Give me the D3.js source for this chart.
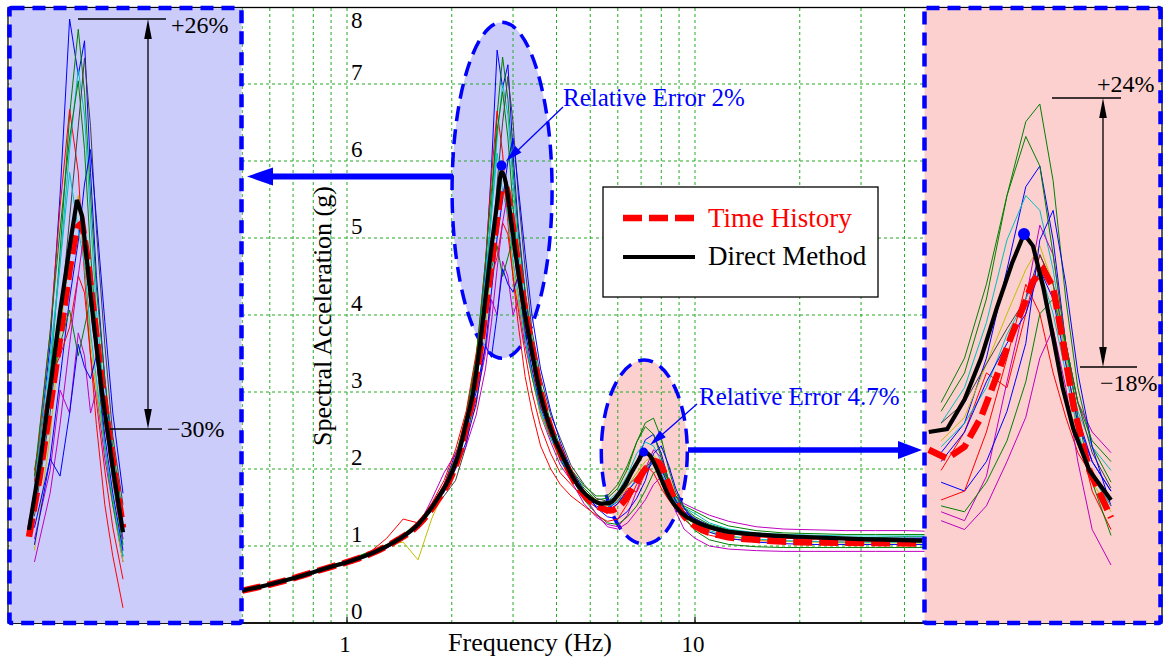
<!DOCTYPE html>
<html>
<head>
<meta charset="utf-8">
<script src="https://cdn.jsdelivr.net/npm/d3@7"></script>
<style>
  body { margin: 0; background: #fff; }
  svg text { font-family: "Liberation Serif", "Times New Roman", serif; }
</style>
</head>
<body>
<svg id="chart"></svg>
<script>
// mean spectra (Hz -> g)
const freqMean = [0.5,0.6,0.7,0.8,0.9,1.0, 1.2,1.4,1.6,1.8,2.0, 2.1,2.2,2.3,2.4,2.5, 2.6,2.7,2.78,2.86,2.95,
  3.05,3.2,3.4,3.6,3.9, 4.2,4.5,5.0,5.4,5.7, 6.0,6.3,6.6,6.9,7.15, 7.4,7.7,8.0,8.3,8.65, 9.2,10,12,15,20, 30,45];
const directMethod = [0.42,0.50,0.58,0.66,0.73,0.79, 0.92,1.08,1.28,1.58,1.95, 2.22,2.60,2.98,3.55,4.22,
  4.88,5.45,5.86,5.72,5.28, 4.80,4.18,3.52,2.96,2.45, 2.13,1.86,1.62,1.55,1.56, 1.66,1.80,1.97,2.12,2.22,
  2.18,2.04,1.87,1.70,1.56, 1.42,1.32,1.20,1.15,1.12, 1.09,1.07];
const timeHistory = [0.42,0.50,0.58,0.66,0.73,0.79, 0.92,1.08,1.27,1.56,1.92, 2.18,2.55,2.92,3.45,4.05,
  4.65,5.25,5.62,5.66,5.35, 4.90,4.25,3.58,3.00,2.46, 2.12,1.84,1.58,1.49,1.46, 1.50,1.60,1.74,1.88,1.98,
  2.06,2.10,2.04,1.86,1.64, 1.42,1.26,1.13,1.08,1.05, 1.04,1.03];

// individual time-history records
const freqRec = [0.5,0.6,0.7,0.8,0.9,1.0, 1.15,1.3,1.45,1.6,1.75,1.9,2.05,
  2.2,2.35,2.5,2.6,2.7,2.8,2.9,3.0,3.1,3.25,3.4,3.6, 3.85,4.1,4.4,4.8,5.2,5.6,
  6.0,6.4,6.8,7.2,7.6,8.0,8.4,8.8,9.3,10, 11,12.5,15,18,22,27,33,40,48];
const rec01 = [0.43,0.51,0.59,0.67,0.74,0.80, 0.90,1.01,1.10,1.30,1.52,1.80,2.20,
  2.55,3.30,4.60,5.90,7.44,6.95,7.25,6.10,5.20,4.30,3.60,3.00, 2.55,2.20,1.95,1.70,1.55,1.48,
  1.58,1.80,2.10,2.38,2.45,2.20,1.85,1.60,1.45,1.35, 1.27,1.20,1.15,1.12,1.11,1.11,1.10,1.10,1.10];
const rec02 = [0.42,0.50,0.57,0.66,0.72,0.78, 0.88,0.98,1.13,1.27,1.47,1.72,2.05,
  2.50,3.15,4.30,5.40,6.60,7.35,6.80,5.90,5.10,4.30,3.70,3.10, 2.60,2.30,1.98,1.75,1.60,1.62,
  1.75,2.00,2.35,2.60,2.66,2.40,2.00,1.70,1.50,1.38, 1.28,1.21,1.16,1.13,1.12,1.11,1.11,1.12,1.12];
const rec03 = [0.42,0.50,0.59,0.66,0.74,0.80, 0.90,1.10,1.35,1.30,1.52,1.80,2.15,
  2.70,3.40,4.70,5.80,6.65,6.10,5.20,4.50,4.10,3.50,3.00,2.55, 2.20,1.95,1.80,1.62,1.50,1.42,
  1.55,1.75,1.70,1.95,2.15,2.05,1.80,1.55,1.35,1.22, 1.14,1.09,1.07,1.06,1.06,1.05,1.06,1.06,1.06];
const rec04 = [0.43,0.51,0.58,0.67,0.73,0.79, 0.90,1.00,1.14,1.30,1.55,1.77,2.12,
  2.60,3.20,4.40,5.30,6.30,7.00,6.60,5.70,4.90,4.10,3.45,2.90, 2.45,2.15,1.90,1.68,1.55,1.58,
  1.70,1.92,2.20,2.35,2.30,2.10,1.82,1.62,1.50,1.42, 1.30,1.22,1.17,1.15,1.14,1.13,1.13,1.13,1.13];
const rec05 = [0.41,0.50,0.58,0.65,0.72,0.78, 0.87,0.97,1.10,1.25,1.60,1.95,2.20,
  2.45,2.90,3.50,4.20,4.00,4.70,4.50,4.00,4.20,3.60,3.20,2.70, 2.35,2.05,1.85,1.55,1.38,1.28,
  1.25,1.40,1.72,2.00,2.25,2.15,1.85,1.65,1.55,1.48, 1.40,1.32,1.25,1.22,1.21,1.20,1.20,1.20,1.19];
const rec06 = [0.42,0.49,0.58,0.66,0.73,0.78, 0.90,1.02,1.05,0.82,1.35,1.72,2.00,
  2.50,2.80,3.80,4.70,5.40,5.90,5.30,4.60,4.20,3.70,3.20,2.70, 2.40,2.10,1.88,1.70,1.60,1.52,
  1.60,1.78,1.95,2.10,2.18,2.05,1.80,1.55,1.38,1.28, 1.18,1.12,1.08,1.06,1.05,1.04,1.04,1.04,1.04];
const rec07 = [0.42,0.50,0.58,0.66,0.73,0.80, 0.89,0.99,1.12,1.26,1.45,1.65,1.85,
  2.30,3.10,4.00,4.80,5.70,6.50,7.10,6.50,5.60,4.60,3.80,3.20, 2.70,2.40,2.05,1.80,1.62,1.58,
  1.65,1.78,1.90,2.00,2.15,2.05,1.85,1.65,1.48,1.36, 1.25,1.18,1.13,1.10,1.09,1.08,1.08,1.08,1.08];
const rec08 = [0.42,0.50,0.58,0.66,0.73,0.79, 0.88,0.98,1.11,1.27,1.48,1.70,2.00,
  2.35,2.85,3.60,4.30,5.00,5.50,6.00,6.30,5.70,4.80,4.00,3.30, 2.75,2.35,2.00,1.72,1.50,1.38,
  1.35,1.45,1.62,1.85,2.20,2.30,2.05,1.75,1.50,1.30, 1.18,1.10,1.05,1.03,1.02,1.02,1.02,1.02,1.02];
const rec09 = [0.43,0.51,0.58,0.67,0.75,0.81, 0.92,1.00,1.14,1.30,1.52,1.78,2.12,
  2.60,3.30,4.20,4.60,4.90,4.50,4.75,5.00,4.50,3.70,3.20,2.75, 2.40,2.15,1.90,1.60,1.42,1.30,
  1.28,1.38,1.52,1.72,1.95,2.00,1.85,1.60,1.38,1.20, 1.08,1.02,0.99,0.98,0.98,0.98,0.98,0.98,0.98];
const rec10 = [0.42,0.50,0.58,0.66,0.73,0.79, 0.89,0.99,1.13,1.30,1.55,1.85,2.25,
  2.75,3.50,4.30,4.50,4.75,5.20,5.05,4.50,3.90,3.20,2.75,2.30, 2.00,1.80,1.65,1.52,1.40,1.32,
  1.35,1.55,1.80,2.05,1.95,1.75,1.60,1.48,1.40,1.30, 1.22,1.16,1.12,1.10,1.09,1.09,1.09,1.09,1.09];
const rec11 = [0.42,0.50,0.58,0.66,0.73,0.79, 0.90,0.99,1.13,1.28,1.50,1.76,2.14,
  2.65,3.35,4.50,5.30,6.10,5.60,5.30,4.70,4.30,3.70,3.25,2.75, 2.40,2.15,1.92,1.70,1.55,1.50,
  1.58,1.70,1.88,2.00,2.10,1.95,1.75,1.55,1.40,1.30, 1.20,1.13,1.09,1.07,1.06,1.05,1.05,1.05,1.05];
const rec12 = [0.41,0.49,0.57,0.65,0.72,0.78, 0.88,0.98,1.10,1.26,1.46,1.70,2.00,
  2.30,2.70,3.30,3.90,4.60,5.20,5.60,5.10,4.60,4.00,3.45,2.90, 2.55,2.25,1.95,1.65,1.42,1.25,
  1.22,1.30,1.45,1.60,1.80,1.90,1.70,1.45,1.22,1.10, 1.00,0.96,0.94,0.93,0.93,0.93,0.93,0.93,0.93];
const rec13 = [0.43,0.51,0.59,0.67,0.74,0.80, 0.91,1.01,1.15,1.31,1.53,1.78,2.15,
  2.70,3.45,4.70,5.60,6.40,6.90,6.30,5.40,4.70,3.95,3.40,2.85, 2.50,2.25,2.00,1.78,1.65,1.65,
  1.80,2.05,2.35,2.55,2.45,2.15,1.85,1.65,1.52,1.45, 1.35,1.26,1.20,1.17,1.16,1.15,1.15,1.15,1.15];
const rec14 = [0.42,0.50,0.58,0.66,0.73,0.79, 0.89,0.99,1.12,1.29,1.49,1.74,2.08,
  2.50,3.00,3.60,3.45,4.00,4.60,4.40,4.30,4.50,3.80,3.30,2.80, 2.45,2.12,1.88,1.66,1.52,1.45,
  1.55,1.72,1.85,1.95,2.10,2.00,1.78,1.58,1.45,1.35, 1.25,1.17,1.13,1.11,1.10,1.10,1.10,1.10,1.10];
const records = [rec01, rec02, rec03, rec04, rec05, rec06, rec07, rec08, rec09, rec10, rec11, rec12, rec13, rec14];
const recordColors = ["#0000ff", "#008000", "#ff0000", "#00bfbf", "#bf00bf", "#bfbf00", "#404040",
  "#0000ff", "#008000", "#ff0000", "#00bfbf", "#bf00bf", "#008000", "#0000ff"];

const gridFreqs = [0.5, 0.6, 0.7, 0.8, 0.9, 1, 2, 3, 4, 5, 6, 7, 8, 9, 10, 20, 30, 40, 50];
const xTicks = [1, 10];
const yTicks = [0, 1, 2, 3, 4, 5, 6, 7, 8];
const legendLabels = ["Time History", "Direct Method"];

const width = 1168, height = 660;
const blue = "#0000ff", lavender = "#ccccfa", pink = "#fdd0d0", gridGreen = "#22aa22";

const svg = d3.select("#chart").attr("width", width).attr("height", height);
svg.append("rect").attr("width", width).attr("height", height).attr("fill", "#fff");

const x = d3.scaleLog().domain([1, 10]).range([347, 695]);
const y = d3.scaleLinear().domain([0, 8]).range([623, 7]);

const defs = svg.append("defs");
function clip(id, x0, y0, w, h) {
  defs.append("clipPath").attr("id", id).append("rect")
    .attr("x", x0).attr("y", y0).attr("width", w).attr("height", h);
}
clip("clipMain", 8, 8, 1154, 615);
clip("clipLeft", 11, 11, 229, 610);
clip("clipRight", 926, 11, 232, 610);

function pairs(fs, vs, lo, hi) {
  return fs.map((f, i) => [f, vs[i]]).filter(d => d[0] >= lo && d[0] <= hi);
}

function arrowHead(g, tipX, tipY, fromX, fromY, len, half, color) {
  const a = Math.atan2(tipY - fromY, tipX - fromX);
  const bx = tipX - len * Math.cos(a), by = tipY - len * Math.sin(a);
  const px = -Math.sin(a) * half, py = Math.cos(a) * half;
  g.append("path")
    .attr("d", `M${tipX},${tipY}L${bx + px},${by + py}L${bx - px},${by - py}Z`)
    .attr("fill", color);
}

// ellipses around the two peaks
const ellipses = [
  { cx: x(2.79), cy: y(5.62), rx: 50, ry: 168, fill: lavender },
  { cx: x(7.15), cy: y(2.22), rx: 43, ry: 92, fill: pink }
];
svg.append("g").selectAll("ellipse").data(ellipses).enter().append("ellipse")
  .attr("cx", d => d.cx).attr("cy", d => d.cy).attr("rx", d => d.rx).attr("ry", d => d.ry)
  .attr("fill", d => d.fill);

// grid
const grid = svg.append("g").attr("stroke", gridGreen).attr("stroke-width", 1).attr("stroke-dasharray", "3,3");
grid.selectAll(".vg").data(gridFreqs).enter().append("line")
  .attr("x1", d => x(d)).attr("x2", d => x(d)).attr("y1", 8).attr("y2", 623);
grid.selectAll(".hg").data(yTicks.slice(1, -1)).enter().append("line")
  .attr("x1", 8).attr("x2", 1162).attr("y1", d => y(d)).attr("y2", d => y(d));

svg.append("g").selectAll("ellipse").data(ellipses).enter().append("ellipse")
  .attr("cx", d => d.cx).attr("cy", d => d.cy).attr("rx", d => d.rx).attr("ry", d => d.ry)
  .attr("fill", "none").attr("stroke", blue).attr("stroke-width", 3.5).attr("stroke-dasharray", "15,8");

// frame and axis
svg.append("rect").attr("x", 8).attr("y", 7.5).attr("width", 1154).attr("height", 615.5)
  .attr("fill", "none").attr("stroke", "#000").attr("stroke-width", 1.3);
svg.append("line").attr("x1", 8).attr("x2", 1162).attr("y1", 623).attr("y2", 623)
  .attr("stroke", "#000").attr("stroke-width", 1.6);
svg.append("g").selectAll("line").data(xTicks).enter().append("line")
  .attr("x1", d => x(d)).attr("x2", d => x(d)).attr("y1", 623).attr("y2", 617)
  .attr("stroke", "#000").attr("stroke-width", 1.2);

svg.append("g").selectAll("text").data(xTicks).enter().append("text")
  .attr("x", d => x(d) - 2).attr("y", 652).attr("text-anchor", "middle")
  .attr("font-size", 23).text(d => d);
svg.append("g").selectAll("text").data(yTicks).enter().append("text")
  .attr("x", 351).attr("y", d => Math.max(y(d) - 4, 28))
  .attr("font-size", 23).text(d => d);

svg.append("text").attr("x", 530).attr("y", 651).attr("text-anchor", "middle")
  .attr("font-size", 26).text("Frequency (Hz)");
svg.append("text").attr("transform", "translate(331,316) rotate(-90)").attr("text-anchor", "middle")
  .attr("font-size", 26).text("Spectral Acceleration (g)");

// spectra, drawn once for the main axes and once per inset
function drawSpectra(g, sx, sy, lo, hi, recLo, recHi, smooth) {
  const line = d3.line().x(d => sx(d[0])).y(d => sy(d[1]));
  g.selectAll(".rec").data(records).enter().append("path")
    .attr("d", d => line(pairs(freqRec, d, recLo, recHi)))
    .attr("fill", "none").attr("stroke", (d, i) => recordColors[i]).attr("stroke-width", 1);
  const meanLine = d3.line().x(d => sx(d[0])).y(d => sy(d[1]))
    .curve(smooth ? d3.curveMonotoneX : d3.curveLinear);
  g.append("path").attr("d", meanLine(pairs(freqMean, timeHistory, lo, hi)))
    .attr("fill", "none").attr("stroke", "#ff0000").attr("stroke-width", 6.5)
    .attr("stroke-dasharray", "19,7");
  g.append("path").attr("d", meanLine(pairs(freqMean, directMethod, lo, hi)))
    .attr("fill", "none").attr("stroke", "#000").attr("stroke-width", 4.2);
}
drawSpectra(svg.append("g").attr("clip-path", "url(#clipMain)"), x, y, 0, 100, 0, 100, true);

// legend
const legend = svg.append("g");
legend.append("rect").attr("x", 603).attr("y", 187).attr("width", 275).attr("height", 110)
  .attr("fill", "#fff").attr("stroke", "#000").attr("stroke-width", 1.3);
legend.append("line").attr("x1", 623).attr("x2", 695).attr("y1", 218).attr("y2", 218)
  .attr("stroke", "#ff0000").attr("stroke-width", 6.5).attr("stroke-dasharray", "19,7");
legend.append("line").attr("x1", 623).attr("x2", 695).attr("y1", 257).attr("y2", 257)
  .attr("stroke", "#000").attr("stroke-width", 4);
legend.append("text").attr("x", 708).attr("y", 227).attr("font-size", 27).attr("fill", "#ff0000").text(legendLabels[0]);
legend.append("text").attr("x", 708).attr("y", 265).attr("font-size", 27).attr("fill", "#000").text(legendLabels[1]);

// annotations
const ann = svg.append("g");
ann.append("line").attr("x1", 453).attr("x2", 268).attr("y1", 176.5).attr("y2", 176.5)
  .attr("stroke", blue).attr("stroke-width", 6);
arrowHead(ann, 247, 176.5, 453, 176.5, 26, 9, blue);
ann.append("line").attr("x1", 688).attr("x2", 902).attr("y1", 450).attr("y2", 450)
  .attr("stroke", blue).attr("stroke-width", 5.5);
arrowHead(ann, 922, 450, 688, 450, 24, 9, blue);

ann.append("line").attr("x1", 563).attr("y1", 107).attr("x2", 512).attr("y2", 156)
  .attr("stroke", blue).attr("stroke-width", 1.3);
arrowHead(ann, 506, 161, 563, 107, 17, 4.5, blue);
ann.append("line").attr("x1", 697).attr("y1", 404).attr("x2", 656).attr("y2", 440)
  .attr("stroke", blue).attr("stroke-width", 1.3);
arrowHead(ann, 650, 445, 697, 404, 17, 4.5, blue);
ann.append("circle").attr("cx", x(2.78)).attr("cy", y(5.94)).attr("r", 5).attr("fill", blue);
ann.append("circle").attr("cx", x(7.12)).attr("cy", y(2.22)).attr("r", 4.5).attr("fill", blue);
ann.append("text").attr("x", 563).attr("y", 106).attr("font-size", 25).attr("fill", blue).text("Relative Error 2%");
ann.append("text").attr("x", 699).attr("y", 405).attr("font-size", 25).attr("fill", blue).text("Relative Error 4.7%");

// insets
function inset(x0, w, fill, clipId, sx, sy, lo, hi) {
  const g = svg.append("g");
  g.append("rect").attr("x", x0).attr("y", 8).attr("width", w).attr("height", 615).attr("fill", fill);
  drawSpectra(g.append("g").attr("clip-path", `url(#${clipId})`), sx, sy, lo, hi, lo, hi, false);
  g.append("rect").attr("x", x0).attr("y", 8).attr("width", w).attr("height", 615).attr("rx", 2)
    .attr("fill", "none").attr("stroke", blue).attr("stroke-width", 4.5).attr("stroke-dasharray", "13,8");
  return g;
}
const xL = d3.scaleLog().domain([2.3, 2.78, 3.6]).range([29, 77, 123]);
const yL = d3.scaleLinear().domain([5.86, 7.44]).range([200, 19]);
const leftInset = inset(9.5, 232, lavender, "clipLeft", xL, yL, 2.3, 3.6);

const xR = d3.scaleLog().domain([5.5, 7.15, 10]).range([935, 1024, 1111]);
const yR = d3.scaleLinear().domain([1.55, 2.22]).range([432, 234]);
const rightInset = inset(924.5, 236, pink, "clipRight", xR, yR, 5.4, 10);
rightInset.append("circle").attr("cx", xR(7.15)).attr("cy", yR(2.22)).attr("r", 6).attr("fill", blue);

function spread(g, xa, topY, botY, top, bot, topLabel, botLabel) {
  g.append("line").attr("x1", top[0]).attr("x2", top[1]).attr("y1", topY).attr("y2", topY)
    .attr("stroke", "#000").attr("stroke-width", 1.3);
  g.append("line").attr("x1", bot[0]).attr("x2", bot[1]).attr("y1", botY).attr("y2", botY)
    .attr("stroke", "#000").attr("stroke-width", 1.3);
  g.append("line").attr("x1", xa).attr("x2", xa).attr("y1", topY + 15).attr("y2", botY - 15)
    .attr("stroke", "#000").attr("stroke-width", 1.3);
  arrowHead(g, xa, topY, xa, botY, 20, 3.8, "#000");
  arrowHead(g, xa, botY, xa, topY, 20, 3.8, "#000");
  g.append("text").attr("x", topLabel[0]).attr("y", topLabel[1]).attr("font-size", 24).text(topLabel[2]);
  g.append("text").attr("x", botLabel[0]).attr("y", botLabel[1]).attr("font-size", 24).text(botLabel[2]);
}
spread(leftInset, 148, 19, 429, [78, 166], [110, 162], [171, 33, "+26%"], [167, 437, "\u221230%"]);
spread(rightInset, 1103, 98, 367, [1052, 1121], [1080, 1137], [1097, 92, "+24%"], [1100, 391, "\u221218%"]);
</script>
</body>
</html>
